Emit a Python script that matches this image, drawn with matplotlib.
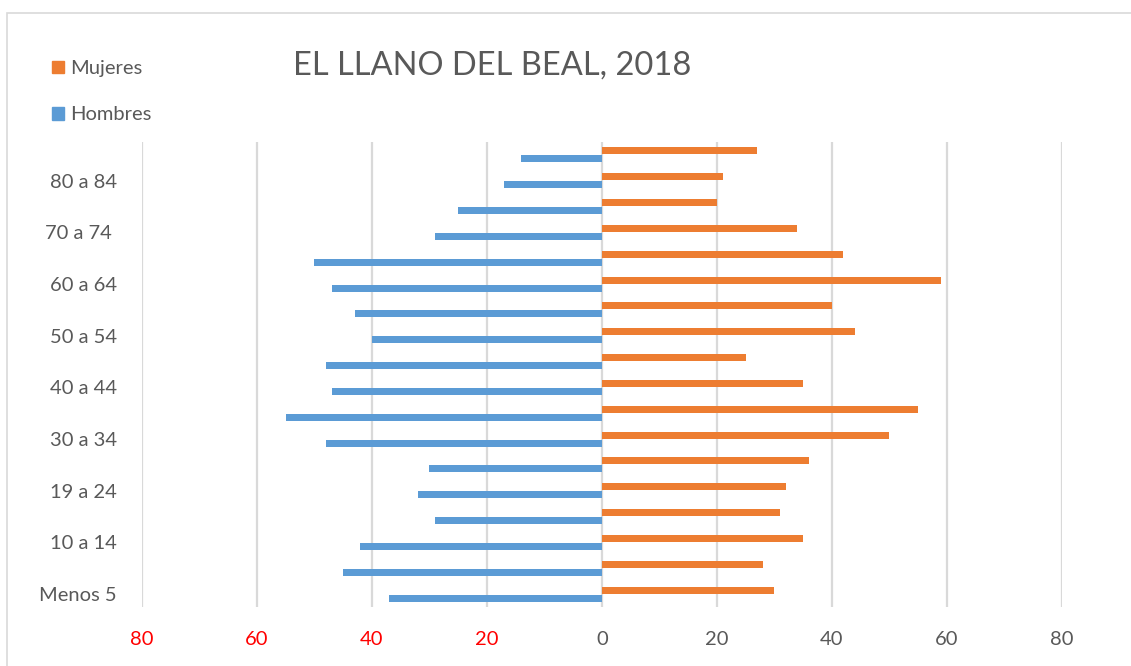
import matplotlib
matplotlib.use('Agg')
import matplotlib.pyplot as plt
from matplotlib.patches import Patch, Rectangle
import numpy as np

plt.rcParams['font.family'] = ['Lato', 'DejaVu Sans']

# age groups, bottom to top
grupos = ['Menos 5', '5 a 9', '10 a 14', '15 a 18', '19 a 24', '25 a 29', '30 a 34', '35 a 39',
          '40 a 44', '45 a 49', '50 a 54', '55 a 59', '60 a 64', '65 a 69', '70 a 74 ', '75 a 79',
          '80 a 84', '85 y más']
mujeres = [30, 28, 35, 31, 32, 36, 50, 55, 35, 25, 44, 40, 59, 42, 34, 20, 21, 27]
hombres = [37, 45, 42, 29, 32, 30, 48, 55, 47, 48, 40, 43, 47, 50, 29, 25, 17, 14]
ticks_x = [-80, -60, -40, -20, 0, 20, 40, 60, 80]

naranja = '#ed7d31'
azul = '#5b9bd5'
gris = '#595959'

fig = plt.figure(figsize=(11.31, 6.66), dpi=100)
ax = fig.add_axes([142 / 1131, 1 - 607 / 666, (1062 - 142) / 1131, (607 - 142) / 666])

y = np.arange(len(grupos))
h = 0.27
ax.barh(y + 0.155, mujeres, height=h, color=naranja, zorder=3)
ax.barh(y - 0.155, [-v for v in hombres], height=h, color=azul, zorder=3)

ax.set_xlim(-80, 80)
ax.set_ylim(-0.5, len(grupos) - 0.5)
ax.set_xticks(ticks_x)
ax.set_xticklabels([str(abs(t)) for t in ticks_x], fontsize=14.5)
for t, lab in zip(ticks_x, ax.get_xticklabels()):
    lab.set_color('red' if t < 0 else gris)
ax.set_yticks(y[::2])
ax.set_yticklabels(grupos[::2], fontsize=14.5, color=gris)
ax.tick_params(length=0, pad=17, axis='x')
ax.tick_params(length=0, pad=18, axis='y')
ax.grid(axis='x', color='#d9d9d9', linewidth=1.6, zorder=0)
for s in ax.spines.values():
    s.set_visible(False)

fig.text(0.435, 0.902, 'EL LLANO DEL BEAL, 2018', fontsize=23.5, color=gris, ha='center', va='center')

handles = [Patch(color=naranja, label='Mujeres'), Patch(color=azul, label='Hombres')]
fig.legend(handles=handles, loc='upper left', bbox_to_anchor=(0.03, 0.937), frameon=False,
           fontsize=14.5, labelcolor=gris, handlelength=0.6, handleheight=0.6, handletextpad=0.3,
           labelspacing=1.45)

fig.patches.append(Rectangle((7 / 1131, -0.1), 1.2, 1.1 - 13 / 666, transform=fig.transFigure,
                             fill=False, edgecolor='#d9d9d9', linewidth=1.2))

fig.savefig('out.png', dpi=100)
